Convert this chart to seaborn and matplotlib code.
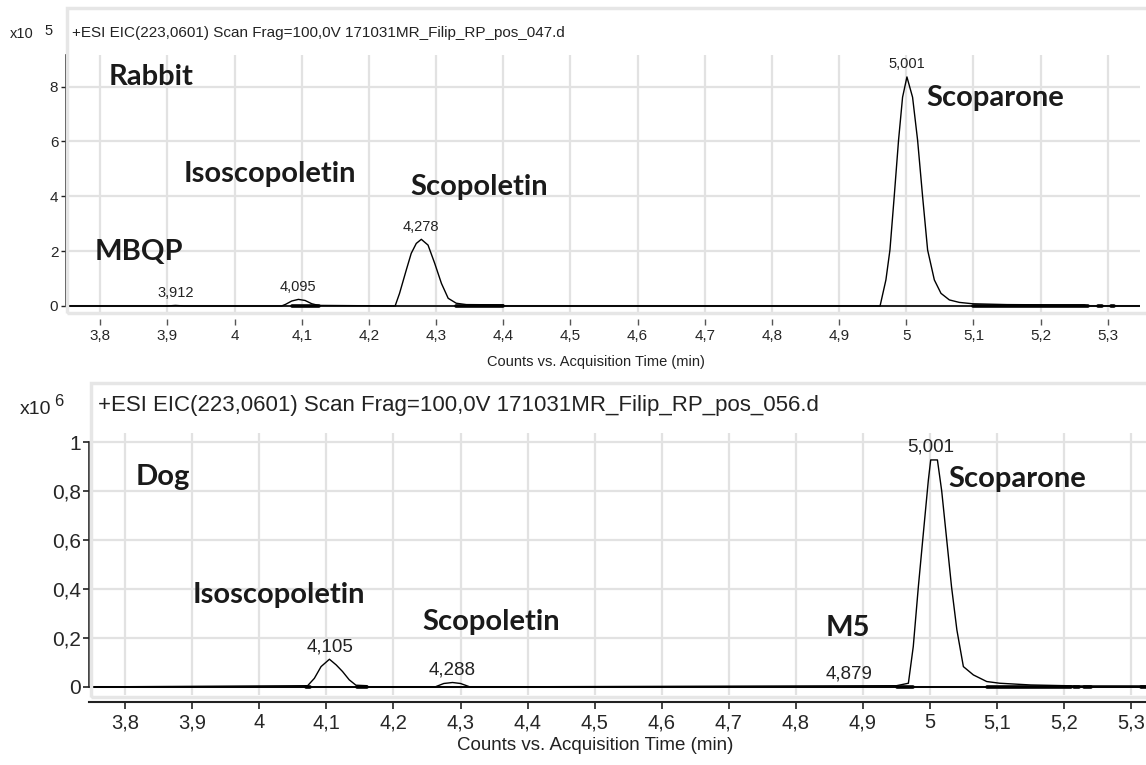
import numpy as np
import pandas as pd
import matplotlib
matplotlib.use("Agg")
import matplotlib.pyplot as plt
import seaborn as sns
from matplotlib.patches import Rectangle

# ---------------- data ----------------
rabbit_time = [3.749, 3.900, 3.912, 3.925, 4.070, 4.076, 4.085, 4.095, 4.105, 4.115, 4.125,
               4.239, 4.2456, 4.2556, 4.263, 4.2705, 4.278, 4.288, 4.298, 4.308, 4.318, 4.330,
               4.345, 4.400, 4.402, 4.961, 4.9697, 4.9757, 4.982, 4.9885, 4.9945, 5.001,
               5.0094, 5.0169, 5.0244, 5.0318, 5.0418, 5.0517, 5.0642, 5.079, 5.099, 5.15,
               5.22, 5.265, 5.27, 5.348]
rabbit_signal = [0, 0, 0.02, 0, 0, 0.06, 0.18, 0.24, 0.20, 0.08, 0.02,
                 0, 0.46, 1.31, 1.92, 2.28, 2.43, 2.22, 1.55, 0.82, 0.28, 0.10,
                 0.05, 0.04, 0, 0, 0.95, 2.04, 3.97, 6.04, 7.61, 8.35,
                 7.61, 6.04, 3.97, 2.04, 0.95, 0.46, 0.22, 0.13, 0.08, 0.05,
                 0.04, 0.04, 0, 0]
rabbit_noise_start = [4.085, 4.33, 5.10, 5.285, 5.305]
rabbit_noise_end = [4.125, 4.40, 5.27, 5.292, 5.310]
rabbit_peaks = [3.912, 4.095, 4.278, 5.001]
rabbit_peak_labels = ["3,912", "4,095", "4,278", "5,001"]
rabbit_compounds = ["Rabbit", "MBQP", "Isoscopoletin", "Scopoletin", "Scoparone"]
rabbit_compound_t = [3.812, 3.791, 3.924, 4.262, 5.030]
rabbit_compound_y = [8.35, 1.95, 4.80, 4.35, 7.60]

dog_time = [3.746, 4.072, 4.082, 4.092, 4.1045, 4.1145, 4.124, 4.134, 4.144, 4.160, 4.162,
            4.262, 4.275, 4.288, 4.300, 4.314, 4.950, 4.9677, 4.975, 4.9826, 4.990,
            4.9975, 5.001, 5.011, 5.0174, 5.0249, 5.032, 5.040, 5.0497, 5.0646, 5.0845,
            5.104, 5.15, 5.22, 5.322]
dog_signal = [0, 0.005, 0.035, 0.083, 0.113, 0.090, 0.063, 0.029, 0.007, 0.005, 0,
              0, 0.014, 0.018, 0.014, 0, 0.005, 0.015, 0.165, 0.41, 0.627,
              0.845, 0.927, 0.927, 0.80, 0.60, 0.41, 0.233, 0.083, 0.049, 0.022,
              0.015, 0.008, 0.004, 0.004]
dog_noise_start = [4.070, 4.145, 4.950, 5.085, 5.215, 5.230, 5.315]
dog_noise_end = [4.075, 4.160, 4.975, 5.210, 5.222, 5.240, 5.322]
dog_peaks = [4.105, 4.288, 4.879, 5.001]
dog_peak_heights = [0.113, 0.018, 0.0, 0.927]
dog_peak_labels = ["4,105", "4,288", "4,879", "5,001"]
dog_compounds = ["Dog", "Isoscopoletin", "Scopoletin", "M5", "Scoparone"]
dog_compound_t = [3.815, 3.901, 4.243, 4.844, 5.028]
dog_compound_y = [0.857, 0.376, 0.265, 0.24, 0.849]

x_ticks = [3.8, 3.9, 4.0, 4.1, 4.2, 4.3, 4.4, 4.5, 4.6, 4.7, 4.8, 4.9, 5.0, 5.1, 5.2, 5.3]
x_tick_labels = ["3,8", "3,9", "4", "4,1", "4,2", "4,3", "4,4", "4,5", "4,6", "4,7",
                 "4,8", "4,9", "5", "5,1", "5,2", "5,3"]
rabbit_y_ticks = [0, 2, 4, 6, 8]
rabbit_y_labels = ["0", "2", "4", "6", "8"]
dog_y_ticks = [0, 0.2, 0.4, 0.6, 0.8, 1.0]
dog_y_labels = ["0", "0,2", "0,4", "0,6", "0,8", "1"]

rabbit_header = "+ESI EIC(223,0601) Scan Frag=100,0V 171031MR_Filip_RP_pos_047.d"
dog_header = "+ESI EIC(223,0601) Scan Frag=100,0V 171031MR_Filip_RP_pos_056.d"
x_label = "Counts vs. Acquisition Time (min)"

# ---------------- figure ----------------
sns.set_theme(style="white")
plt.rcParams["font.family"] = ["Liberation Sans", "DejaVu Sans"]

W, H = 1146, 765
fig = plt.figure(figsize=(W / 100, H / 100), dpi=100)
fig.patch.set_facecolor("white")


def fx(px):
    return px / W


def fy(py):
    return 1 - py / H


GRID = "#e2e2e2"
BOX = "#e6e6e6"
TXT = "#222222"
BOLD_FONT = ["Lato", "DejaVu Sans"]

# light grey panel frames
fig.add_artist(Rectangle((fx(67), fy(313)), fx(1146) - fx(67) + 0.01, (313 - 8) / H,
                         transform=fig.transFigure, fill=False, ec=BOX, lw=2.5))
fig.add_artist(Rectangle((fx(91), fy(697)), fx(1146) - fx(91) + 0.01, (697 - 383) / H,
                         transform=fig.transFigure, fill=False, ec=BOX, lw=2.5))

ax1 = fig.add_axes([fx(66), fy(312), fx(1140) - fx(66), (312 - 55) / H])
ax2 = fig.add_axes([fx(89), fy(695), fx(1146) - fx(89), (695 - 433) / H])

df1 = pd.DataFrame({"time": rabbit_time, "signal": rabbit_signal})
df2 = pd.DataFrame({"time": dog_time, "signal": dog_signal})

for ax, df, xlim, ylim, ytop in [(ax1, df1, (3.749, 5.348), (-0.22, 9.15), 9.15),
                                 (ax2, df2, (3.746, 5.322), (-0.033, 1.037), 1.0)]:
    ax.set_facecolor("none")
    ax.set_xlim(*xlim)
    ax.set_ylim(*ylim)
    ax.set_xticks(x_ticks)
    for xt in x_ticks:
        ax.axvline(xt, color=GRID, lw=1.6, zorder=0)
    sns.lineplot(data=df, x="time", y="signal", ax=ax, color="black", lw=1.0,
                 sort=False, estimator=None, zorder=3)
    ax.set_xlabel("")
    ax.set_ylabel("")
    for s in ["top", "right"]:
        ax.spines[s].set_visible(False)
    ax.spines["left"].set_color(TXT)
    ax.spines["left"].set_linewidth(1.2)
    ax.spines["left"].set_bounds(0, ytop)

# baseline noise (thick stretches)
for ax, starts, ends in [(ax1, rabbit_noise_start, rabbit_noise_end),
                         (ax2, dog_noise_start, dog_noise_end)]:
    for s, e in zip(starts, ends):
        seg = pd.DataFrame({"time": [s, e], "signal": [0, 0]})
        sns.lineplot(data=seg, x="time", y="signal", ax=ax, color="black", lw=2.6,
                     sort=False, estimator=None, zorder=3)
    ax.set_xlabel("")
    ax.set_ylabel("")

# --- top (rabbit) ---
ax1.set_yticks(rabbit_y_ticks)
ax1.set_yticklabels(rabbit_y_labels)
for yt in rabbit_y_ticks:
    ax1.axhline(yt, color=GRID, lw=1.6, zorder=0)
ax1.set_xticklabels(x_tick_labels)
ax1.spines["bottom"].set_position(("outward", 5))
ax1.spines["bottom"].set_visible(False)
ax1.tick_params(axis="x", direction="out", length=4.5, width=1.0, color="#555555",
                labelsize=11, pad=3, bottom=True)
ax1.tick_params(axis="y", direction="out", length=3.5, width=1.0, color=TXT,
                labelsize=11, pad=2, left=True)
ax1.axhline(0, color="black", lw=1.2, zorder=2)

for t, lab in zip(rabbit_peaks, rabbit_peak_labels):
    yv = np.interp(t, rabbit_time, rabbit_signal)
    ax1.annotate(lab, (t, yv), xytext=(0, 4), textcoords="offset points",
                 ha="center", va="bottom", fontsize=10.5, color=TXT)
for name, t, yv in zip(rabbit_compounds, rabbit_compound_t, rabbit_compound_y):
    ax1.text(t, yv, name, ha="left", va="center", fontsize=21, fontweight="bold",
             family=BOLD_FONT, color="#1a1a1a")

fig.text(fx(596), fy(362), x_label, ha="center", va="center", fontsize=10.5, color=TXT)
fig.text(fx(72), fy(33), rabbit_header, ha="left", va="center", fontsize=11, color=TXT)
fig.text(fx(10), fy(34), "x10", ha="left", va="center", fontsize=10.5, color=TXT)
fig.text(fx(44), fy(31), "5", ha="left", va="center", fontsize=10.5, color=TXT)

# --- bottom (dog) ---
ax2.set_yticks(dog_y_ticks)
ax2.set_yticklabels(dog_y_labels)
for yt in dog_y_ticks:
    ax2.axhline(yt, color=GRID, lw=1.6, zorder=0)
ax2.set_xticklabels(x_tick_labels)
ax2.spines["bottom"].set_position(("outward", 5))
ax2.spines["bottom"].set_color(TXT)
ax2.spines["bottom"].set_linewidth(1.5)
ax2.tick_params(axis="x", direction="out", length=5, width=1.2, color=TXT,
                labelsize=14.5, pad=3, bottom=True)
ax2.tick_params(axis="y", direction="out", length=4, width=1.2, color=TXT,
                labelsize=15, pad=2, left=True)
ax2.axhline(0, color="black", lw=1.4, zorder=2)

for t, yv, lab in zip(dog_peaks, dog_peak_heights, dog_peak_labels):
    ax2.annotate(lab, (t, yv), xytext=(0, 3), textcoords="offset points",
                 ha="center", va="bottom", fontsize=13.5, color=TXT)
for name, t, yv in zip(dog_compounds, dog_compound_t, dog_compound_y):
    ax2.text(t, yv, name, ha="left", va="center", fontsize=21, fontweight="bold",
             family=BOLD_FONT, color="#1a1a1a")

fig.text(fx(595), fy(745), x_label, ha="center", va="center", fontsize=13.5, color=TXT)
fig.text(fx(98), fy(406), dog_header, ha="left", va="center", fontsize=16, color=TXT)
fig.text(fx(20), fy(409), "x10", ha="left", va="center", fontsize=14, color=TXT)
fig.text(fx(54), fy(402), "6", ha="left", va="center", fontsize=12, color=TXT)

fig.savefig("out.png", dpi=100, facecolor="white")
